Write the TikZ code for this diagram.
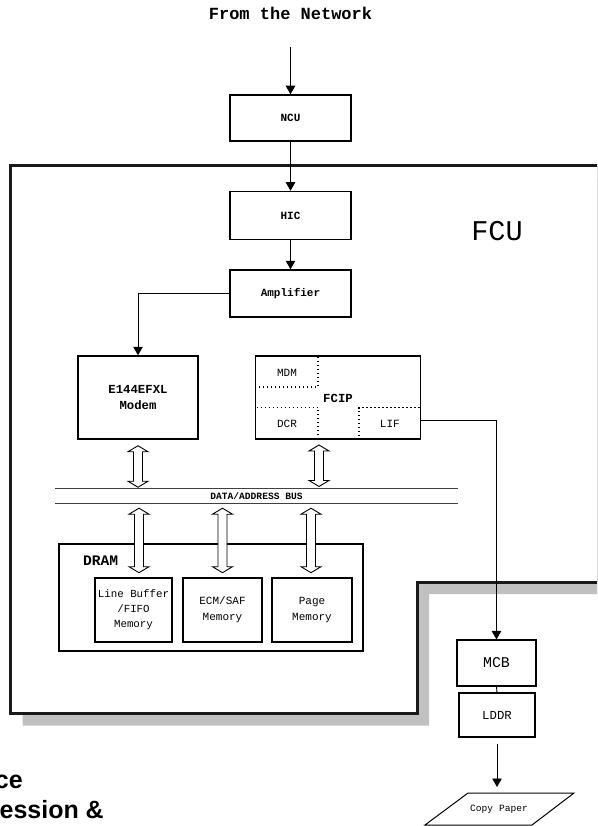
\documentclass[tikz,border=0pt]{standalone}
\usepackage{fontspec}
\setmainfont{Liberation Mono}
\newfontfamily\arialfont{Liberation Sans}
\usetikzlibrary{arrows.meta,calc}
\newcommand{\fsz}[2]{\fontsize{#1pt}{#2pt}\selectfont}
\tikzset{
  box/.style={draw, line width=1.5pt, inner sep=0pt, align=center, fill=white},
  subbox/.style={draw, line width=1.1pt, inner sep=0pt, align=center, fill=white},
  conn/.style={line width=0.9pt, -{Triangle[length=8.5pt,width=9.5pt]}},
  plainconn/.style={line width=0.9pt},
  dotline/.style={line width=1.1pt, dash pattern=on 1.1pt off 2.9pt},
  txt/.style={inner sep=0pt, align=center},
  busline/.style={line width=0.9pt, draw=black!75},
  pics/dblarrow/.style={code={
    \draw[line width=0.9pt, fill=white, line join=miter]
      (0,0) -- (10,6) -- (4.5,6) -- (4.5,#1-6) -- (10,#1-6) -- (0,#1)
      -- (-10,#1-6) -- (-4.5,#1-6) -- (-4.5,6) -- (-10,6) -- cycle;
  }}
}
\begin{document}
\begin{tikzpicture}[x=1pt,y=-1pt]
\useasboundingbox (0,0) rectangle (597,826);
\clip (0,0) rectangle (597,826);

% FCU frame with shadow
\fill[fill={rgb,255:red,192;green,192;blue,192}]
  (22.5,178) -- (610,178) -- (610,594) -- (429,594) -- (429,725.5) -- (22.5,725.5) -- cycle;
\draw[line width=3pt, fill=white, line join=miter, draw={rgb,255:red,25;green,25;blue,25}]
  (10.5,166) -- (598,166) -- (598,582) -- (417,582) -- (417,713.5) -- (10.5,713.5) -- cycle;
\node[txt, font=\fsz{28.6}{32}] (fcu) at (497,231) {FCU};

% top chain
\node[txt, font=\fsz{17}{20}\bfseries] (net) at (290.5,13) {From the Network};
\coordinate (netend) at (290.5,47);
\node[box, minimum width=121pt, minimum height=46pt, font=\fsz{11}{13}\bfseries] (ncu) at (290.5,118) {NCU};
\node[box, minimum width=121pt, minimum height=48pt, font=\fsz{11}{13}\bfseries] (hic) at (290.5,215.5) {HIC};
\node[box, minimum width=121pt, minimum height=47pt, font=\fsz{11}{13}\bfseries] (amp) at (290.5,293.5) {Amplifier};
\draw[conn] (netend) -- (ncu.north);
\draw[conn] (ncu.south) -- (hic.north);
\draw[conn] (hic.south) -- (amp.north);

% modem and FCIP
\node[box, minimum width=120pt, minimum height=83pt, font=\fsz{12.3}{16}\bfseries] (modem) at (138,397.5) {E144EFXL\\Modem};
\node[box, minimum width=165pt, minimum height=83pt] (fcip) at (338,397.5) {};
\node[txt, font=\fsz{12.3}{15}\bfseries] (fciplbl) at (338,398.5) {FCIP};
\draw[conn] (amp.west) -| (modem.north);

\draw[dotline] (318,357) -- (318,387) -- (256.5,387);
\draw[dotline] (256.5,407.7) -- (318,407.7) -- (318,438);
\draw[dotline] (419.5,407.7) -- (359,407.7) -- (359,438);
\node[txt, font=\fsz{11}{13}] (mdm) at (287,372.5) {MDM};
\node[txt, font=\fsz{11}{13}] (dcr) at (287,423.5) {DCR};
\node[txt, font=\fsz{11}{13}] (lif) at (389.8,423.5) {LIF};
\coordinate (fcipdiv) at (319,439);

% bus
\node[txt, minimum width=403pt, minimum height=15pt, font=\fsz{9.6}{11}\bfseries] (bus) at (256.5,495.8) {DATA/ADDRESS BUS};
\draw[busline] (bus.north west) -- (bus.north east);
\draw[busline] (bus.south west) -- (bus.south east);

\path (modem.south) ++(0,6) pic {dblarrow=41.5};
\path (fcipdiv) ++(0,6) pic {dblarrow=41.5};

% DRAM
\node[box, minimum width=304pt, minimum height=107pt] (dram) at (211,597.5) {};
\node[txt, anchor=west, font=\fsz{14.6}{16}\bfseries] (dramlbl) at (83,561) {DRAM};
\node[subbox, minimum width=77pt, minimum height=64pt, font=\fsz{10.8}{15}] (lb) at (133.5,610) {Line Buffer\\/FIFO\\Memory};
\node[subbox, minimum width=79pt, minimum height=64pt, font=\fsz{11}{16}] (ecm) at (222.5,610) {ECM/SAF\\Memory};
\node[subbox, minimum width=80pt, minimum height=64pt, font=\fsz{11}{16}] (page) at (312,610) {Page\\Memory};

\path (bus.south -| modem.south) ++(1,4.7) pic {dblarrow=64.5};
\path (bus.south -| ecm.north) ++(0,4.7) pic {dblarrow=64.5};
\path (bus.south -| page.north) ++(-1,4.7) pic {dblarrow=64.5};

% output chain
\node[subbox, minimum width=79pt, minimum height=46pt, font=\fsz{14.9}{16}] (mcb) at (496.5,663) {MCB};
\node[subbox, minimum width=76pt, minimum height=44pt, font=\fsz{12.3}{14}] (lddr) at (497,715) {LDDR};
\draw[conn] ($(fcip.east |- lif)+(0,-3.5)$) -| (mcb.north);
\draw[plainconn] (mcb.south) -- (lddr.north);

\draw[line width=1pt, line join=miter] (468,793) -- (574,793) -- (532,825) -- (425,825) -- cycle;
\node[txt, font=\fsz{9.6}{11}] (paper) at (499,809.5) {Copy Paper};
\coordinate (papertop) at (497,787);
\draw[conn, shorten <=6pt] (lddr.south) -- (papertop);

% clipped text at lower left
\node[txt, anchor=base east, font=\arialfont\bfseries\fsz{25}{30}] (t1) at (23,788) {ce};
\node[txt, anchor=base east, font=\arialfont\bfseries\fsz{25}{30}] (t2) at (104,818) {ession \&};
\end{tikzpicture}
\end{document}
